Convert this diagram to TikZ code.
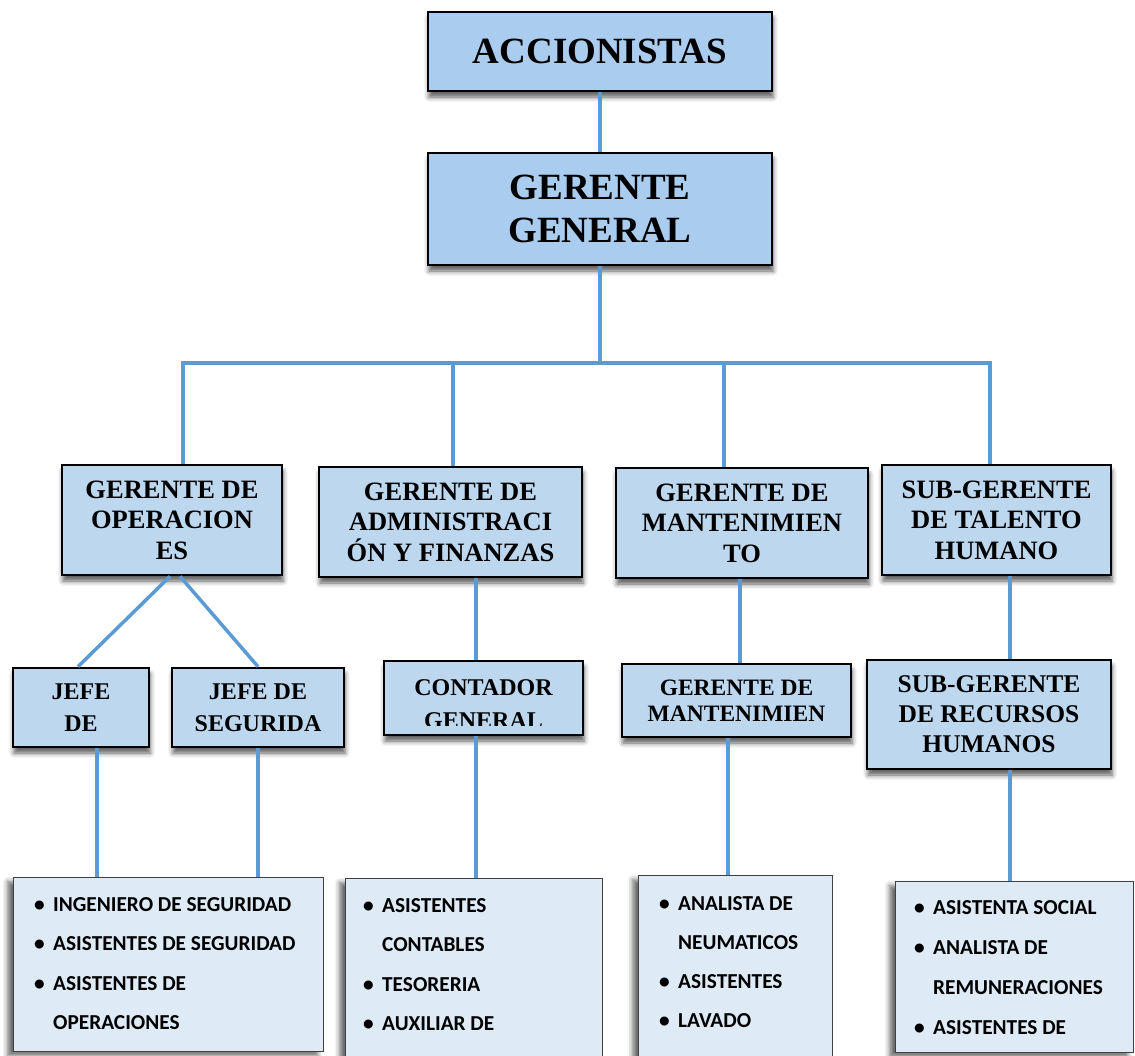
\documentclass[tikz,border=0pt]{standalone}
\usepackage{fontspec}
\setmainfont{Liberation Serif}
\newfontfamily\listfont{Carlito}
\usetikzlibrary{positioning, shadows.blur}

\definecolor{topfill}{HTML}{A9CCEF}
\definecolor{midfill}{HTML}{BDD7EE}
\definecolor{listfill}{HTML}{DEEAF6}
\definecolor{conncol}{HTML}{5B9BD5}

\newcommand\bulitem[1]{\makebox[19pt][l]{\textbullet}#1}
\newcommand\contline[1]{\hspace*{19pt}#1}

\begin{document}
\begin{tikzpicture}[x=1pt, y=-1pt]
        % Styles
        \tikzstyle{topbox} = [rectangle, draw=black, line width=2.7pt, fill=topfill, inner sep=0pt, align=center, blur shadow={shadow xshift=1pt, shadow yshift=-6pt, shadow blur radius=5pt, shadow opacity=65}]
        \tikzstyle{midbox} = [topbox, fill=midfill]
        \tikzstyle{listbox} = [rectangle, draw=black!75, line width=1.3pt, fill=listfill, inner sep=0pt, blur shadow={shadow xshift=-6pt, shadow yshift=-4pt, shadow blur radius=5pt, shadow opacity=60}]
        \tikzstyle{listtext} = [inner sep=0pt, align=left, font=\listfont\bfseries\fontsize{21.3}{39.5}\selectfont]
        \tikzstyle{lvlone} = [font=\bfseries\fontsize{37}{43}\selectfont]
        \tikzstyle{lvltwo} = [font=\bfseries\fontsize{26.5}{30.5}\selectfont]
        \tikzstyle{lvlthree} = [align=center, inner sep=0pt, font=\bfseries\fontsize{24}{32}\selectfont]
        \tikzstyle{conn} = [draw=conncol, line width=3.5pt]

        \useasboundingbox (0,0) rectangle (1135,1055);
        \clip (0,0) rectangle (1135,1055);

        % Nodes
        \node (acc) [topbox, lvlone, minimum width=344pt, minimum height=79pt] at (600,51.5) {ACCIONISTAS};
        \node (gg) [topbox, lvlone, minimum width=344pt, minimum height=112pt] at (600,209) {GERENTE\\GENERAL};
        \coordinate (bus) at (600,363);

        \node (gop) [midbox, lvltwo, minimum width=220pt, minimum height=110pt] at (172,520) {GERENTE DE\\OPERACION\\ES};
        \node (gaf) [midbox, lvltwo, minimum width=263pt, minimum height=110pt] at (450.5,522) {GERENTE DE\\ADMINISTRACI\\ÓN Y FINANZAS};
        \node (gmt) [midbox, lvltwo, minimum width=252pt, minimum height=110pt] at (742,523) {GERENTE DE\\MANTENIMIEN\\TO};
        \node (gth) [midbox, lvltwo, minimum width=229pt, minimum height=110pt] at (996.5,520) {SUB-GERENTE\\DE TALENTO\\HUMANO};

        \node (jop) [midbox, lvlthree, minimum width=136pt, minimum height=79pt] at (81,707.5) {JEFE\\DE};
        \node (jseg) [midbox, lvlthree, minimum width=172pt, minimum height=79pt] at (258,707.5) {JEFE DE\\SEGURIDA};
        \node (cont) [midbox, minimum width=199pt, minimum height=74pt,
            path picture={
                \clip ([yshift=10pt]path picture bounding box.south west) rectangle (path picture bounding box.north east);
                \node (contt) [lvlthree, font=\bfseries\fontsize{24}{33}\selectfont] at ([yshift=-6pt]path picture bounding box.center) {CONTADOR\\GENERAL};
            }] at (483.5,698) {};
        \node (gm2) [midbox, lvlthree, font=\bfseries\fontsize{23.5}{26}\selectfont, minimum width=229pt, minimum height=73pt] at (736.5,700.5) {GERENTE DE\\MANTENIMIEN};
        \node (rrhh) [midbox, lvlthree, font=\bfseries\fontsize{25.5}{30}\selectfont, minimum width=244pt, minimum height=109pt] at (989,714.5) {SUB-GERENTE\\DE RECURSOS\\HUMANOS};

        \node (lst1) [listbox, anchor=north west, minimum width=310pt, minimum height=174pt] at (13,877) {};
        \node (lst2) [listbox, anchor=north west, minimum width=257pt, minimum height=240pt] at (345,878) {};
        \node (lst3) [listbox, anchor=north west, minimum width=194pt, minimum height=240pt] at (638,875) {};
        \node (lst4) [listbox, anchor=north west, minimum width=238pt, minimum height=171pt] at (895,881) {};

        \node (lst1t) [listtext, anchor=north west] at ([shift={(21pt,-20pt)}]lst1.north west)
            {\bulitem{INGENIERO DE SEGURIDAD}\\\bulitem{ASISTENTES DE SEGURIDAD}\\\bulitem{ASISTENTES DE}\\\contline{OPERACIONES}};
        \node (lst2t) [listtext, anchor=north west] at ([shift={(18pt,-20pt)}]lst2.north west)
            {\bulitem{ASISTENTES}\\\contline{CONTABLES}\\\bulitem{TESORERIA}\\\bulitem{AUXILIAR DE}};
        \node (lst3t) [listtext, anchor=north west, font=\listfont\bfseries\fontsize{21.3}{39}\selectfont] at ([shift={(21pt,-21pt)}]lst3.north west)
            {\bulitem{ANALISTA DE}\\\contline{NEUMATICOS}\\\bulitem{ASISTENTES}\\\bulitem{LAVADO}};
        \node (lst4t) [listtext, anchor=north west, font=\listfont\bfseries\fontsize{21.3}{40}\selectfont] at ([shift={(19pt,-19pt)}]lst4.north west)
            {\bulitem{ASISTENTA SOCIAL}\\\bulitem{ANALISTA DE}\\\contline{REMUNERACIONES}\\\bulitem{ASISTENTES DE}};

        % Edges
        \path [conn] (acc) -- (gg);
        \path [conn] (gg) -- (bus);
        \path [conn] ([xshift=11pt]gop.north) |- (bus) -| ([xshift=-6.5pt]gth.north);
        \path [conn] ([xshift=2.5pt]gaf.north) -- ([xshift=2.5pt]gaf.north |- bus);
        \path [conn] ([xshift=-18pt]gmt.north) -- ([xshift=-18pt]gmt.north |- bus);

        % Operaciones branch
        \path [conn] ([xshift=-2pt]gop.south) -- ([xshift=-3pt]jop.north);
        \path [conn] ([xshift=8pt]gop.south) -- (jseg.north);
        \path [conn] ([xshift=16pt]jop.south) -- ([xshift=16pt]jop.south |- lst1.north);
        \path [conn] (jseg.south) -- (jseg.south |- lst1.north);

        % other branches
        \path [conn] ([xshift=25.5pt]gaf.south) -- ([xshift=25.5pt]gaf.south |- cont.north);
        \path [conn] ([xshift=-7.5pt]cont.south) -- ([xshift=-7.5pt]cont.south |- lst2.north);
        \path [conn] ([xshift=-2pt]gmt.south) -- ([xshift=-2pt]gmt.south |- gm2.north);
        \path [conn] ([xshift=-8.5pt]gm2.south) -- ([xshift=-8.5pt]gm2.south |- lst3.north);
        \path [conn] ([xshift=13.5pt]gth.south) -- ([xshift=13.5pt]gth.south |- rrhh.north);
        \path [conn] ([xshift=21pt]rrhh.south) -- ([xshift=21pt]rrhh.south |- lst4.north);

    \end{tikzpicture}
\end{document}
